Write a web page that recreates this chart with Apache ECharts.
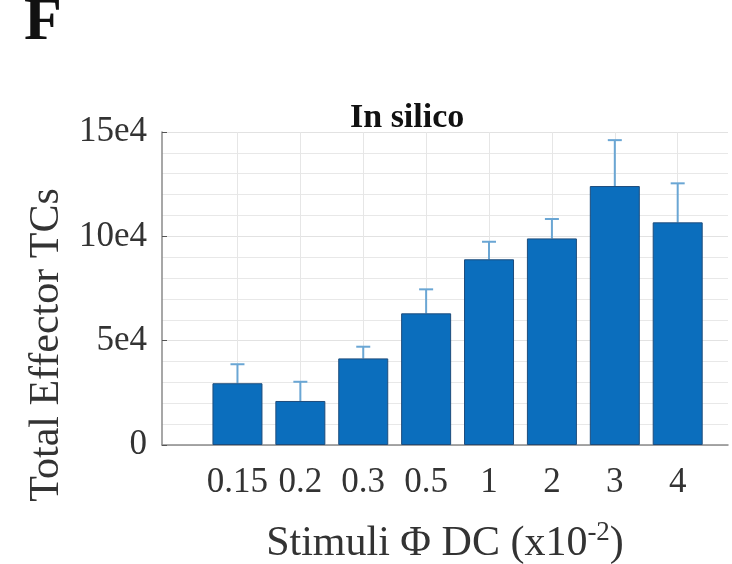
<!DOCTYPE html>
<html>
<head>
<meta charset="utf-8">
<script src="https://cdn.jsdelivr.net/npm/echarts@6/dist/echarts.min.js"></script>
<style>html,body{margin:0;padding:0;background:#fff}#chart{width:732px;height:564px}</style>
</head>
<body>
<div id="chart"></div>
<script>
const categories = ['0.15', '0.2', '0.3', '0.5', '1', '2', '3', '4'];
const meanValues = [29600, 21100, 41500, 63100, 89000, 99000, 124100, 106700];
const errorValues = [9100, 9200, 5600, 11500, 8400, 9300, 22000, 18700];
const yTickValues = [0, 50000, 100000, 150000];
const yTickLabels = ['0', '5e4', '10e4', '15e4'];

const serif = '"Liberation Serif", "DejaVu Serif", serif';
const barData = meanValues.map((v, i) => [i, v]);
const errData = meanValues.map((v, i) => [i, v, v + errorValues[i]]);
const idx = categories.map((c, i) => i);

const chart = echarts.init(document.getElementById('chart'));
chart.setOption({
  animation: false,
  backgroundColor: '#fff',
  title: {
    text: 'In silico',
    left: 345, top: 96,
    textStyle: { fontFamily: serif, fontWeight: 'bold', fontSize: 34, color: '#111' }
  },
  graphic: [
    { type: 'text', left: 24, top: -8, style: { text: 'F', font: 'bold 62px ' + serif, fill: '#111' } },
    { type: 'text', x: 47, y: 345, rotation: Math.PI / 2,
      style: { text: 'Total Effector TCs', font: '42px ' + serif, fill: '#333', align: 'center', verticalAlign: 'middle' } }
  ],
  grid: { left: 162, right: 4, top: 132, bottom: 119, outerBoundsMode: 'none', containLabel: false },
  xAxis: {
    type: 'value', min: -1.2, max: 7.8, interval: 0.2,
    axisLine: { show: true, onZero: false, lineStyle: { color: '#8a8a8a', width: 1.5 } },
    axisTick: { show: true, inside: true, length: 5, customValues: idx, lineStyle: { color: '#555' } },
    axisLabel: {
      customValues: idx, margin: 20,
      formatter: v => categories[Math.round(v)] ?? '',
      fontFamily: serif, fontSize: 35, color: '#333'
    },
    splitLine: { show: true, lineStyle: { color: '#e6e6e6', width: 1 } },
    name: '{a|Stimuli Φ DC (x10}{s|-2}{a|)}',
    nameLocation: 'middle', nameGap: 74,
    nameTextStyle: {
      rich: {
        a: { fontFamily: serif, fontSize: 42, color: '#333' },
        s: { fontFamily: serif, fontSize: 27, color: '#333', verticalAlign: 'top', padding: [0, 0, 22, 0] }
      }
    }
  },
  yAxis: {
    type: 'value', min: 0, max: 150000, interval: 50000,
    axisLine: { show: true, onZero: false, lineStyle: { color: '#8a8a8a', width: 1.5 } },
    axisTick: { show: true, inside: true, length: 5, lineStyle: { color: '#555' } },
    axisLabel: {
      margin: 15, fontFamily: serif, fontSize: 35, color: '#333',
      formatter: v => { const k = yTickValues.indexOf(v); return k >= 0 ? yTickLabels[k] : ''; }
    },
    splitLine: { show: true, lineStyle: { color: '#e2e2e2', width: 1 } },
    minorTick: { show: false, splitNumber: 5 },
    minorSplitLine: { show: true, lineStyle: { color: '#e8e8e8', width: 1 } }
  },
  series: [
    {
      type: 'bar', data: barData, barWidth: 50,
      itemStyle: { color: '#0b6ebd', borderColor: '#1d4c7c', borderWidth: 1 }
    },
    {
      type: 'custom', data: errData, z: 1,
      renderItem: (params, api) => {
        const x = api.value(0);
        const p0 = api.coord([x, api.value(1)]);
        const p1 = api.coord([x, api.value(2)]);
        const hw = 7;
        const st = { stroke: '#6aa6d4', lineWidth: 2 };
        return { type: 'group', children: [
          { type: 'line', shape: { x1: p0[0], y1: p0[1], x2: p1[0], y2: p1[1] }, style: st },
          { type: 'line', shape: { x1: p1[0] - hw, y1: p1[1], x2: p1[0] + hw, y2: p1[1] }, style: st }
        ] };
      }
    }
  ]
});
</script>
</body>
</html>
